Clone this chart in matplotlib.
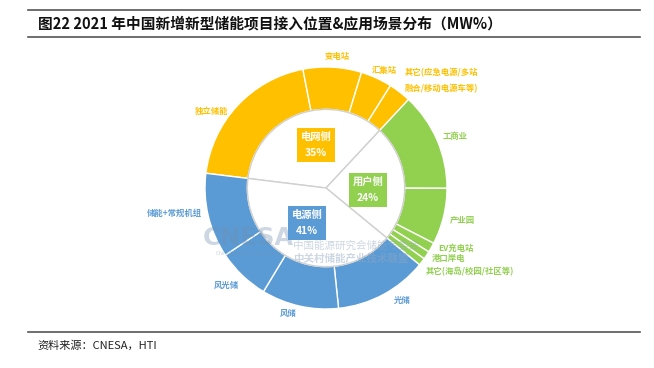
import matplotlib
matplotlib.use("Agg")
import matplotlib.pyplot as plt
from matplotlib.lines import Line2D

plt.rcParams['font.family'] = ['Noto Sans CJK SC', 'DejaVu Sans']

# ---- data (share of total MW, %) ----
group_names = ['电网侧', '用户侧', '电源侧']
group_values = [35, 24, 41]

grid_names = ['独立储能', '变电站', '汇集站', '其它(应急电源/多站\n融合/移动电源车等)']
grid_values = [20.0, 7.8, 4.2, 3.0]
user_names = ['工商业', '产业园', 'EV充电站', '港口岸电', '其它(海岛/校园/社区等)']
user_values = [13.1, 7.5, 1.3, 1.1, 1.0]
source_names = ['光储', '风储', '风光储', '储能+常规机组']
source_values = [12.4, 10.3, 7.0, 11.3]

title = '图22 2021 年中国新增新型储能项目接入位置&应用场景分布（MW%）'
source_note = '资料来源：CNESA，HTI'

# ---- styling ----
YELLOW = '#FFC000'
GREEN = '#92D050'
BLUE = '#5B9BD5'
group_colors = [YELLOW, GREEN, BLUE]

W, H = 654, 368
fig = plt.figure(figsize=(W / 100, H / 100), dpi=100)

def fx(px):
    return px / W

def fy(py):
    return 1 - py / H

# rules and title
for yy in (10, 37):
    fig.add_artist(Line2D([fx(28), fx(640)], [fy(yy), fy(yy)], color='#555555', lw=1.2))
fig.add_artist(Line2D([fx(28), fx(640)], [fy(332), fy(332)], color='#555555', lw=1.2))
fig.text(fx(38), fy(23.5), title, fontsize=10.6, fontweight='bold', va='center', ha='left', color='#111111')
fig.text(fx(37), fy(345), source_note, fontsize=8.0, va='center', ha='left', color='#222222')

# pie axes: center (326,188) px, radius 1 == 121 px
cx, cy, R = 326, 188, 121
S = 300
ax = fig.add_axes([fx(cx - S / 2), fy(cy + S / 2), S / W, S / H])
lim = S / 2 / R
ax.set_aspect('equal')
ax.axis('off')

outer_values = grid_values + user_values + source_values
outer_colors = [YELLOW] * len(grid_values) + [GREEN] * len(user_values) + [BLUE] * len(source_values)
hole = 0.65
ax.pie(outer_values, radius=1.0, colors=outer_colors, startangle=173, counterclock=False,
       wedgeprops=dict(width=1 - hole, edgecolor='white', linewidth=1.0))
ax.pie(group_values, radius=hole, colors=['white'] * 3, startangle=173, counterclock=False,
       wedgeprops=dict(edgecolor='#D0D0D0', linewidth=1.0))
ax.set_xlim(-lim, lim)
ax.set_ylim(-lim, lim)

def d(px, py):
    return ((px - cx) / R, (cy - py) / R)

# outer labels (layout positions in px)
outer_label_pos = {
    '独立储能': (212, 111, 'center'),
    '变电站': (337, 57, 'center'),
    '汇集站': (384, 70, 'center'),
    '其它(应急电源/多站\n融合/移动电源车等)': (405, 81, 'left'),
    '工商业': (455, 137, 'center'),
    '产业园': (462, 221, 'center'),
    'EV充电站': (438, 248, 'left'),
    '港口岸电': (432, 258, 'left'),
    '其它(海岛/校园/社区等)': (426, 272, 'left'),
    '光储': (402, 300, 'center'),
    '风储': (288, 313, 'center'),
    '风光储': (226, 285, 'center'),
    '储能+常规机组': (202, 213, 'right'),
}
all_names = grid_names + user_names + source_names
for name, col in zip(all_names, outer_colors):
    px, py, ha = outer_label_pos[name]
    x, y = d(px, py)
    ax.text(x, y, name, fontsize=6.0, color=col, ha=ha, va='center', fontweight='bold',
            linespacing=2.0)

# watermark
wx, wy = d(248, 238)
ax.text(wx, wy, 'CNESA', fontsize=17.5, fontweight='bold', color='#6F8FAF', alpha=0.35,
        ha='center', va='center', family=['DejaVu Sans'])
wx, wy = d(248, 254)
ax.text(wx, wy, 'China Energy Storage Alliance', fontsize=3.4, color='#6F8FAF', alpha=0.4,
        ha='center', va='center')
wx, wy = d(293, 246)
ax.text(wx, wy, '中国能源研究会储能专委会', fontsize=7.6, color='#8FA7C0', alpha=0.45,
        ha='left', va='center')
wx, wy = d(293, 259)
ax.text(wx, wy, '中关村储能产业技术联盟', fontsize=7.6, color='#8FA7C0', alpha=0.45,
        ha='left', va='center', fontweight='bold')

# inner labels in colored boxes
inner_pos = [(316, 145), (368, 190), (307, 223)]
for name, val, col, (px, py) in zip(group_names, group_values, group_colors, inner_pos):
    x, y = d(px, py)
    ax.text(x, y, f'{name}\n{val}%', fontsize=7.4, color='white', fontweight='bold',
            ha='center', va='center', linespacing=1.7,
            bbox=dict(boxstyle='square,pad=0.4', fc=col, ec='none'))

fig.savefig('out.png', dpi=100)
